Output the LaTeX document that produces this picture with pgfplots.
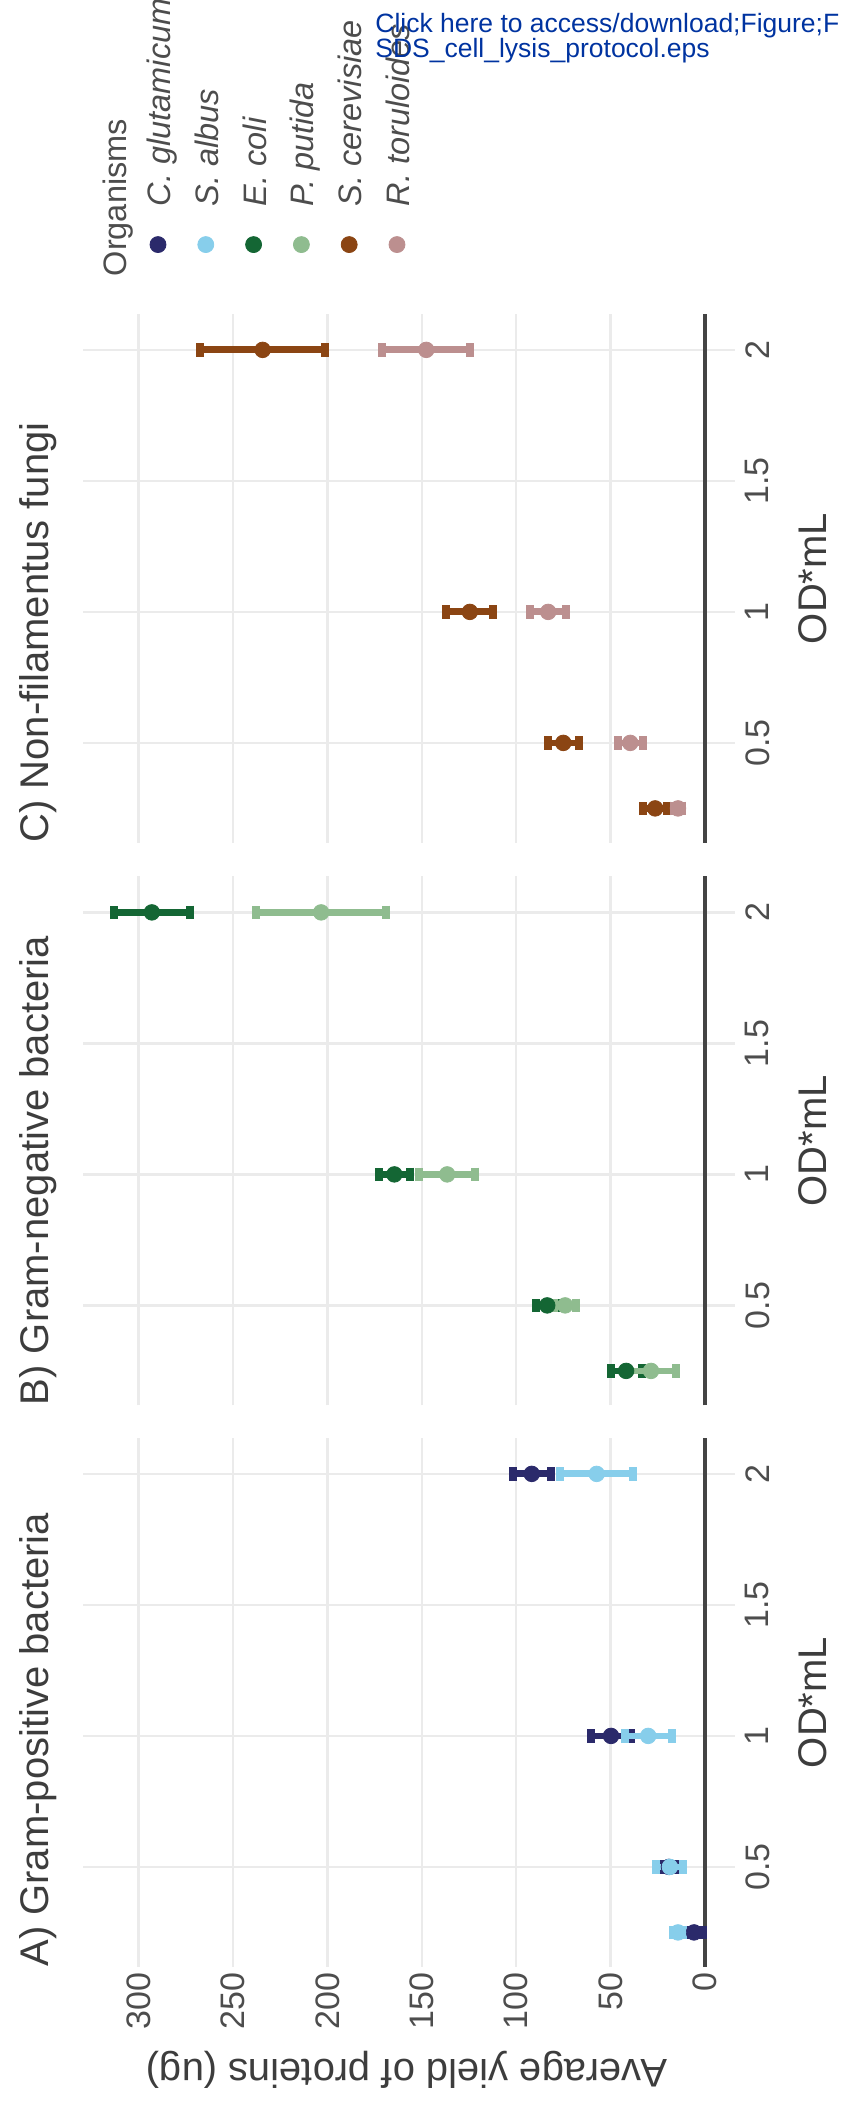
\documentclass[border=0pt]{standalone}
\usepackage{graphicx}
\usepackage{fontspec}
\setmainfont{Liberation Sans}
\usepackage{pgfplots}
\pgfplotsset{compat=1.18}
\definecolor{cglu}{HTML}{2B2A6B}
\definecolor{salb}{HTML}{87CEEB}
\definecolor{ecol}{HTML}{146634}
\definecolor{pput}{HTML}{8FBC8F}
\definecolor{scer}{HTML}{8B4513}
\definecolor{rtor}{HTML}{BC8F8F}
\definecolor{gridc}{HTML}{EBEBEB}
\definecolor{axisc}{HTML}{444444}
\definecolor{tickc}{HTML}{4D4D4D}
\definecolor{ttlc}{HTML}{3D3D3D}
\definecolor{stamp}{HTML}{0033A0}
\pgfplotsset{
  panel/.style={
    scale only axis, width=264.5pt, height=326pt,
    xmin=0.118, xmax=2.137, ymin=-16, ymax=329.5,
    xtick={0.5,1,1.5,2}, ytick={0,50,100,150,200,250,300},
    grid=major, major grid style={draw=gridc, line width=1.2pt},
    axis line style={draw=none}, tick style={draw=none}, major tick length=0pt,
    /pgf/number format/assume math mode=true,
    ticklabel style={font=\fontsize{17pt}{20pt}\selectfont, text=tickc},
    xticklabel style={anchor=north, inner sep=0pt, yshift=-5pt},
    yticklabel style={anchor=east, inner sep=0pt, xshift=-2.5pt},
  },
  ser/.style={only marks, mark=*, mark size=3.9pt, color=#1,
    mark options={draw=none, fill=#1},
    error bars/.cd, y dir=both, y explicit,
    error bar style={line width=3.4pt, color=#1},
    error mark options={rotate=90, line width=4pt, mark size=3.4pt, color=#1}},
}
\begin{document}
\rotatebox{90}{%
\begin{tikzpicture}
\path[use as bounding box] (0pt,0pt) rectangle (1050.5pt,420.5pt);
% Panel A
\begin{axis}[panel, at={(67pt,53pt)}, anchor=south west]
\addplot[axisc, line width=1.8pt, forget plot] coordinates {(0.118,0) (2.137,0)};
\addplot[ser=cglu] coordinates {(0.25,5.7) +- (0,4.5) (0.5,19) +- (0,3.6) (1,49.7) +- (0,10.5) (2,91.7) +- (0,10)};
\addplot[ser=salb] coordinates {(0.25,14.2) +- (0,2.5) (0.5,18.5) +- (0,7.2) (1,30) +- (0,12.4) (2,57.3) +- (0,19.3)};
\end{axis}
% Panel B
\begin{axis}[panel, at={(347.75pt,53pt)}, anchor=south west, yticklabels={}]
\addplot[axisc, line width=1.8pt, forget plot] coordinates {(0.118,0) (2.137,0)};
\addplot[ser=ecol] coordinates {(0.25,41.7) +- (0,8.2) (0.5,83.5) +- (0,6) (1,164.5) +- (0,8.2) (2,293) +- (0,20.2)};
\addplot[ser=pput] coordinates {(0.25,28.5) +- (0,13.5) (0.5,74) +- (0,6) (1,136.5) +- (0,14.8) (2,203.3) +- (0,34.6)};
\end{axis}
% Panel C
\begin{axis}[panel, at={(629pt,53pt)}, anchor=south west, yticklabels={},
  legend cell align=left,
  legend style={at={(1.11531,0.97592)}, anchor=north west, draw=none, fill=none,
    inner sep=0pt, outer sep=0pt, row sep=7.9pt, column sep=15pt,
    font=\fontsize{16.25pt}{19pt}\selectfont\itshape,
    nodes={inner sep=0pt, text height=12pt, text depth=4pt, text=tickc},
    cells={anchor=base west}}]
\addlegendimage{empty legend}
\addlegendentry{\upshape\raisebox{-2.15pt}{\hspace*{-35pt}Organisms}}
\addlegendimage{legend image code/.code={\fill[cglu] (0pt,6.25pt) circle (4pt);}}
\addlegendentry{C. glutamicum}
\addlegendimage{legend image code/.code={\fill[salb] (0pt,6.25pt) circle (4pt);}}
\addlegendentry{S. albus}
\addlegendimage{legend image code/.code={\fill[ecol] (0pt,6.25pt) circle (4pt);}}
\addlegendentry{E. coli}
\addlegendimage{legend image code/.code={\fill[pput] (0pt,6.25pt) circle (4pt);}}
\addlegendentry{P. putida}
\addlegendimage{legend image code/.code={\fill[scer] (0pt,6.25pt) circle (4pt);}}
\addlegendentry{S. cerevisiae}
\addlegendimage{legend image code/.code={\fill[rtor] (0pt,6.25pt) circle (4pt);}}
\addlegendentry{R. toruloides}
\addplot[axisc, line width=1.8pt, forget plot] coordinates {(0.118,0) (2.137,0)};
\addplot[ser=scer] coordinates {(0.25,26.3) +- (0,6.5) (0.5,75) +- (0,8.3) (1,124.5) +- (0,12.5) (2,234.3) +- (0,33)};
\addplot[ser=rtor] coordinates {(0.25,14.2) +- (0,2) (0.5,39.5) +- (0,6.6) (1,83) +- (0,9.7) (2,147.6) +- (0,23.4)};
\end{axis}
% titles
\node[anchor=base west, inner sep=0pt, font=\fontsize{20pt}{24pt}\selectfont, text=ttlc] at (67pt,396pt) {A) Gram-positive bacteria};
\node[anchor=base west, inner sep=0pt, font=\fontsize{20pt}{24pt}\selectfont, text=ttlc] at (347.75pt,396pt) {B) Gram-negative bacteria};
\node[anchor=base west, inner sep=0pt, font=\fontsize{20pt}{24pt}\selectfont, text=ttlc] at (629pt,396pt) {C) Non-filamentus fungi};
\node[anchor=base, inner sep=0pt, font=\fontsize{20pt}{24pt}\selectfont, text=ttlc] at (199.25pt,7pt) {OD*mL};
\node[anchor=base, inner sep=0pt, font=\fontsize{20pt}{24pt}\selectfont, text=ttlc] at (480pt,7pt) {OD*mL};
\node[anchor=base, inner sep=0pt, font=\fontsize{20pt}{24pt}\selectfont, text=ttlc] at (761.25pt,7pt) {OD*mL};
\node[anchor=base, rotate=90, inner sep=0pt, font=\fontsize{20pt}{24pt}\selectfont, text=ttlc] at (21pt,217pt) {Average yield of proteins (ug)};
% stamp
\node[anchor=base west, rotate=-90, inner sep=0pt, font=\fontsize{13.25pt}{13pt}\selectfont, text=stamp] at (1034pt,233pt) {Click here to access/download;Figure;F};
\node[anchor=base west, rotate=-90, inner sep=0pt, font=\fontsize{13.25pt}{13pt}\selectfont, text=stamp] at (1021.5pt,233pt) {SDS\_cell\_lysis\_protocol.eps};
\end{tikzpicture}}
\end{document}
